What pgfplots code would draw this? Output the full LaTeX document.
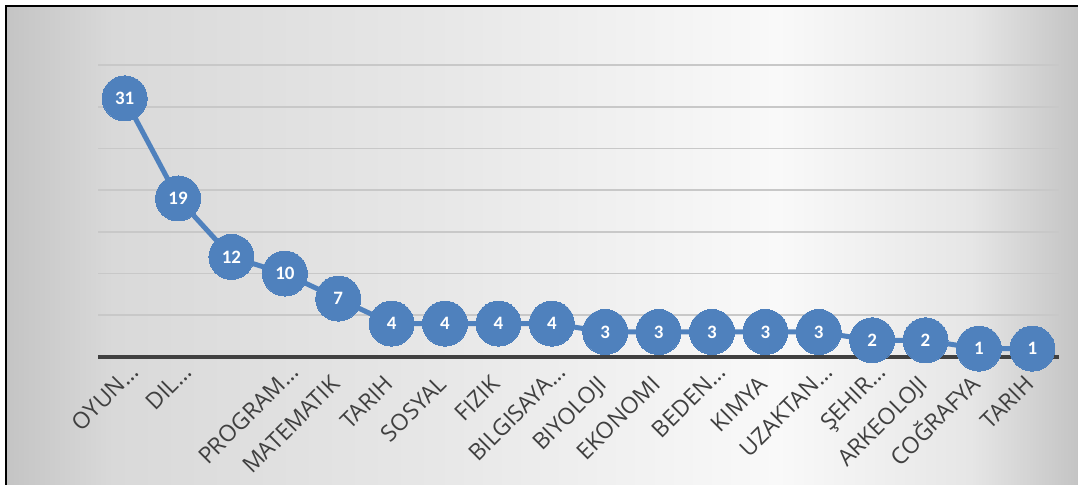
\documentclass[border=0pt]{standalone}
\usepackage{fontspec}
\setmainfont{Open Sans}
\newfontfamily\carlito{Carlito}
\usepackage{pgfplots}
\pgfplotsset{compat=1.18}
\definecolor{ser}{HTML}{4F81BD}
\definecolor{axl}{HTML}{404040}
\definecolor{grd}{HTML}{C8C8C8}
\definecolor{lbl}{HTML}{404040}
\definecolor{bga}{HTML}{C4C4C4}
\definecolor{bgb}{HTML}{D9D9D9}
\definecolor{bgc}{HTML}{E7E7E7}
\definecolor{bgd}{HTML}{F9F9F9}
\definecolor{bge}{HTML}{E6E6E6}
\pgfdeclarehorizontalshading{bgshade}{100bp}{color(0bp)=(bga); color(25bp)=(bga); color(30bp)=(bgb); color(45bp)=(bgc); color(61bp)=(bgd); color(70bp)=(bge); color(75bp)=(bga); color(100bp)=(bga)}
\begin{document}
\begin{tikzpicture}[x=1bp,y=1bp]
\useasboundingbox (0,0) rectangle (1078,485);
\shade[shading=bgshade] (6,0) rectangle (1078,479);
\draw[black, line width=2bp] (6,0) -- (6,479) -- (1078,479);
\begin{axis}[
  at={(98bp,128bp)}, anchor=south west,
  width=961bp, height=292bp, scale only axis,
  xmin=-0.5, xmax=17.5, ymin=0, ymax=35,
  clip=false,
  axis line style={draw=none},
  ytick={5,10,...,35}, yticklabels={},
  ymajorgrids, grid style={grd, line width=1.8bp},
  extra y ticks={0}, extra y tick labels={},
  extra y tick style={grid style={axl, line width=4bp}},
  major tick length=0pt,
  xtick={0,...,17},
  xticklabels={OYUN…\hspace*{-17bp},DIL…\hspace*{-17bp},{},PROGRAM…\hspace*{-17bp},MATEMATIK,TARIH,SOSYAL,FIZIK,BILGISAYA…\hspace*{-17bp},BIYOLOJI,EKONOMI,BEDEN…\hspace*{-17bp},KIMYA,UZAKTAN…\hspace*{-17bp},ŞEHIR…\hspace*{-17bp},ARKEOLOJI,COĞRAFYA,TARIH},
  xticklabel style={yshift=-29bp, xshift=3bp, rotate=45, anchor=base east, inner sep=0pt, outer sep=0pt, text=lbl, font=\fontsize{23}{23}\selectfont},
]
\addplot[ser, line width=5bp, mark=*, mark size=22.5bp,
  mark options={fill=ser, draw=ser, line width=0pt},
  /pgf/number format/assume math mode=true,
  nodes near coords, nodes near coords align={center},
  every node near coord/.append style={text=white, inner sep=0pt, font=\carlito\bfseries\fontsize{19}{19}\selectfont}]
coordinates {(0,31) (1,19) (2,12) (3,10) (4,7) (5,4) (6,4) (7,4) (8,4) (9,3) (10,3) (11,3) (12,3) (13,3) (14,2) (15,2) (16,1) (17,1)};
\end{axis}
\end{tikzpicture}
\end{document}
